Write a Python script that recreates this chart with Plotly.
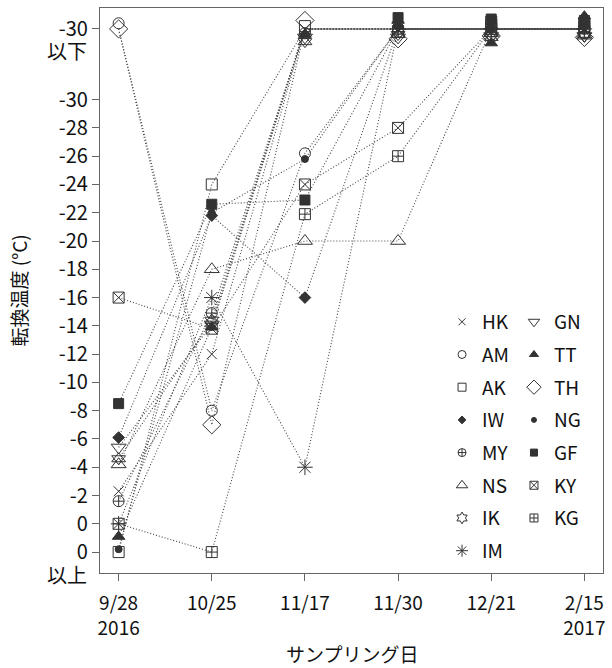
import plotly.graph_objects as go

# ---------------- data ----------------
dates = ["9/28<br>2016", "10/25", "11/17", "11/30", "12/21", "2/15<br>2017"]
TOP = 35      # "-30 以下" category
BOTTOM = -2   # "0 以上" category

# values are degrees below zero (plotted as -value on the labels)
HK = [2.3, 12.0, TOP, TOP, TOP, TOP]
AM = [TOP, 8.0, 26.2, TOP, TOP, TOP]
AK = [BOTTOM, 24.0, TOP, TOP, TOP, TOP]
IW = [6.1, 21.8, 16.0, TOP, TOP, TOP]
MY = [1.6, 14.9, TOP, TOP, TOP, TOP]
NS = [4.2, 18.0, 20.0, 20.0, TOP, TOP]
IK = [4.6, 14.4, TOP, TOP, TOP, TOP]
IM = [0.0, 16.0, 4.0, TOP, TOP, TOP]
GN = [5.4, 14.1, TOP, TOP, TOP, TOP]
TT = [-0.9, 13.9, TOP, TOP, TOP, TOP]
TH = [TOP, 7.0, TOP, TOP, TOP, TOP]
NG = [-1.8, 22.0, 25.8, TOP, TOP, TOP]
GF = [8.5, 22.6, 22.9, TOP, TOP, TOP]
KY = [16.0, 13.8, 24.0, 28.0, TOP, TOP]
KG = [0.0, BOTTOM, 21.9, 26.0, TOP, TOP]

names = ["HK", "AM", "AK", "IW", "MY", "NS", "IK", "IM",
         "GN", "TT", "TH", "NG", "GF", "KY", "KG"]
values = [HK, AM, AK, IW, MY, NS, IK, IM, GN, TT, TH, NG, GF, KY, KG]

y_tickvals = [TOP, 30, 28, 26, 24, 22, 20, 18, 16, 14, 12, 10, 8, 6, 4, 2, 0, BOTTOM]
y_ticktext = ["-30", "-30", "-28", "-26", "-24", "-22", "-20", "-18", "-16",
              "-14", "-12", "-10", "-8", "-6", "-4", "-2", "0", "0"]

# ---------------- styles ----------------
# small vertical display jitter for overlapping markers (like the original)
jitter = {
    "HK": [0, 0, 0.0, 0.0, 0.0, 0.0],
    "AM": [0.4, 0, 0, 0.0, 0.1, 0.0],
    "AK": [0, 0, 0.2, -0.2, 0.0, -0.2],
    "IW": [0, 0, 0, 0.2, 0.1, 0.2],
    "MY": [0, 0, -0.3, -0.2, -0.2, -0.3],
    "NS": [0, 0, 0, 0, -0.3, -0.4],
    "IK": [0, 0, -0.9, -0.4, -0.6, -0.5],
    "IM": [0, 0, 0, 0.0, 0.0, 0.0],
    "GN": [0, 0, -0.6, -0.6, -0.5, -0.5],
    "TT": [0, 0, -0.4, 0.6, -1.0, 0.9],
    "TH": [0, 0, 0.6, -0.7, -0.5, -0.6],
    "NG": [0, 0, 0, 0.4, 0.3, 0.3],
    "GF": [0, 0, 0, 0.8, 0.7, 0.6],
    "KY": [0, 0, 0, 0, 0.5, 0.4],
    "KG": [0, 0, 0, 0, 0.3, 0.2],
}

MK = "#333333"
styles = {
    "HK": [dict(symbol="x-thin-open", size=10)],
    "AM": [dict(symbol="circle-open", size=11)],
    "AK": [dict(symbol="square-open", size=11)],
    "IW": [dict(symbol="diamond", size=9)],
    "MY": [dict(symbol="circle-cross-open", size=11)],
    "NS": [dict(symbol="triangle-up-open", size=13)],
    "IK": [dict(symbol="triangle-up-open", size=12), dict(symbol="triangle-down-open", size=12)],
    "IM": [dict(symbol="asterisk-open", size=13)],
    "GN": [dict(symbol="triangle-down-open", size=13)],
    "TT": [dict(symbol="triangle-up", size=11)],
    "TH": [dict(symbol="diamond-open", size=14)],
    "NG": [dict(symbol="circle", size=7)],
    "GF": [dict(symbol="square", size=10)],
    "KY": [dict(symbol="square-x-open", size=11)],
    "KG": [dict(symbol="square-cross-open", size=11)],
}
legend_symbols = {"IK": "hexagram-open"}

FONT = "Noto Sans CJK JP, Noto Sans, sans-serif"
TXT = "#111111"
x_idx = list(range(len(dates)))

fig = go.Figure()

# dotted connecting lines
for name, vals in zip(names, values):
    fig.add_trace(go.Scatter(
        x=x_idx, y=vals, mode="lines",
        line=dict(color="#444444", width=1.1, dash="1px,2px"),
        showlegend=False, hoverinfo="skip"))

# markers
for name, vals in zip(names, values):
    yy = [v + j for v, j in zip(vals, jitter[name])]
    for st in styles[name]:
        fig.add_trace(go.Scatter(
            x=x_idx, y=yy, mode="markers", name=name,
            marker=dict(symbol=st["symbol"], size=st["size"], color=MK,
                        line=dict(color=MK, width=1)),
            showlegend=False))

# legend entries (two columns)
for i, name in enumerate(names):
    st = styles[name][0]
    sym = legend_symbols.get(name, st["symbol"])
    fig.add_trace(go.Scatter(
        x=[None], y=[None], mode="markers", name=name,
        marker=dict(symbol=sym, size=max(5, st["size"] - 3), color=MK,
                    line=dict(color=MK, width=1)),
        legendgroup=name, showlegend=True,
        legend="legend" if i < 8 else "legend2"))

legend_common = dict(
    font=dict(family=FONT, size=19, color=TXT),
    bgcolor="rgba(0,0,0,0)", tracegroupgap=5, traceorder="grouped",
    xanchor="left", yanchor="top", itemsizing="trace")

axis_common = dict(
    showgrid=False, zeroline=False, showline=True, mirror=True, automargin=False,
    linecolor="#666666", linewidth=1.3, ticks="outside", ticklen=7,
    tickcolor="#666666")

fig.update_layout(
    width=612, height=668,
    margin=dict(l=100, r=9, t=8, b=95),
    paper_bgcolor="white", plot_bgcolor="white",
    font=dict(family=FONT, size=19, color=TXT),
    legend=dict(x=0.68, y=0.478, **legend_common),
    legend2=dict(x=0.823, y=0.478, **legend_common),
    xaxis=dict(range=[-0.2, 5.2], tickmode="array", tickvals=x_idx, ticktext=dates,
               ticklabelstandoff=6, tickfont=dict(family=FONT, size=19, color=TXT),
               **axis_common),
    yaxis=dict(range=[-3.48, 36.48], tickmode="array", tickvals=y_tickvals,
               ticktext=y_ticktext,
               tickfont=dict(family=FONT, size=20, color=TXT), **axis_common),
    annotations=[
        dict(text="以下", x=-0.022, xref="paper", y=TOP, yref="y", yshift=-22,
             xanchor="right", yanchor="middle", showarrow=False,
             font=dict(family=FONT, size=20, color=TXT)),
        dict(text="以上", x=-0.022, xref="paper", y=BOTTOM, yref="y", yshift=-22,
             xanchor="right", yanchor="middle", showarrow=False,
             font=dict(family=FONT, size=20, color=TXT)),
        dict(text="転換温度 (°C)", x=-0.163, xref="paper", y=0.5, yref="paper",
             textangle=-90, xanchor="center", yanchor="middle", showarrow=False,
             font=dict(family=FONT, size=19, color=TXT)),
        dict(text="サンプリング日", x=0.5, xref="paper", y=-0.143, yref="paper",
             xanchor="center", yanchor="middle", showarrow=False,
             font=dict(family=FONT, size=19, color=TXT)),
    ],
)

fig.write_html("out.html", config={"displayModeBar": False},
               post_script="document.body.style.margin='0';")
